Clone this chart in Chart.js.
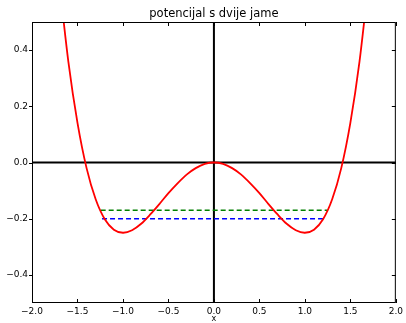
<!DOCTYPE html>
<html>
<head>
<meta charset="utf-8">
<script src="https://cdn.jsdelivr.net/npm/chart.js@4.4.0/dist/chart.umd.min.js"></script>
<style>
html,body{margin:0;padding:0;background:#fff;}
#wrap{width:406px;height:323px;position:relative;}
</style>
</head>
<body>
<div id="wrap"><canvas id="c" width="406" height="323"></canvas></div>
<script>
// potential curve samples
const curveX = [-1.7,-1.6,-1.5,-1.4,-1.3,-1.2,-1.1,-1.0,-0.9,-0.8,-0.7,-0.6,-0.5,-0.4,-0.3,-0.2,-0.1,0.0,0.1,0.2,0.3,0.4,0.5,0.6,0.7,0.8,0.9,1.0,1.1,1.2,1.3,1.4,1.5,1.6,1.7];
const curveY = [0.643,0.358,0.141,-0.020,-0.131,-0.202,-0.239,-0.250,-0.241,-0.218,-0.185,-0.148,-0.109,-0.074,-0.043,-0.020,-0.005,0.000,-0.005,-0.020,-0.043,-0.074,-0.109,-0.148,-0.185,-0.218,-0.241,-0.250,-0.239,-0.202,-0.131,-0.020,0.141,0.358,0.643];
// energy levels
const greenX = [-1.245, 1.245];
const greenY = [-0.17, -0.17];
const blueX = [-1.23, 1.23];
const blueY = [-0.2, -0.2];
// ticks
const xTicks = [-2.0,-1.5,-1.0,-0.5,0.0,0.5,1.0,1.5,2.0];
const yTicks = [-0.4,-0.2,0.0,0.2,0.4];
const xRange = [-2, 2];
const yRange = [-0.5, 0.5];
const titleText = 'potencijal s dvije jame';
const xLabel = 'x';

const pts = (xs, ys) => xs.map((x, i) => ({x: x, y: ys[i]}));

const framePlugin = {
  id: 'frame',
  beforeDatasetsDraw(chart) {
    const {ctx, chartArea: a, scales} = chart;
    const xs = scales.x, ys = scales.y;
    ctx.save();
    ctx.strokeStyle = '#000';
    ctx.lineWidth = 2;
    const y0 = ys.getPixelForValue(0);
    const x0 = xs.getPixelForValue(0);
    ctx.beginPath();
    ctx.moveTo(a.left, y0); ctx.lineTo(a.right, y0);
    ctx.moveTo(x0, a.top); ctx.lineTo(x0, a.bottom);
    ctx.stroke();
    ctx.restore();
  },
  afterDatasetsDraw(chart) {
    const {ctx, chartArea: a, scales} = chart;
    const xs = scales.x, ys = scales.y;
    ctx.save();
    ctx.strokeStyle = '#000';
    ctx.lineWidth = 1;
    ctx.strokeRect(a.left + 0.5, a.top + 0.5, a.right - a.left - 1, a.bottom - a.top - 1);
    ctx.beginPath();
    xTicks.forEach(v => {
      const p = Math.round(xs.getPixelForValue(v)) + 0.5;
      ctx.moveTo(p, a.bottom); ctx.lineTo(p, a.bottom - 4);
      ctx.moveTo(p, a.top); ctx.lineTo(p, a.top + 4);
    });
    yTicks.forEach(v => {
      const p = Math.round(ys.getPixelForValue(v)) + 0.5;
      ctx.moveTo(a.left, p); ctx.lineTo(a.left - 3, p);
      ctx.moveTo(a.right, p); ctx.lineTo(a.right - 4, p);
    });
    ctx.stroke();
    // title centred over the axes
    ctx.fillStyle = '#000';
    ctx.font = '11.5px "DejaVu Sans"';
    ctx.textAlign = 'center';
    ctx.textBaseline = 'alphabetic';
    ctx.fillText(titleText, (a.left + a.right) / 2, 17.3);
    ctx.restore();
  }
};

new Chart(document.getElementById('c'), {
  type: 'scatter',
  data: {
    datasets: [
      {data: pts(curveX, curveY), showLine: true, borderColor: '#ff0000', borderWidth: 1.8, pointRadius: 0, tension: 0.3, fill: false},
      {data: pts(greenX, greenY), showLine: true, borderColor: '#008000', borderWidth: 1.6, borderDash: [5, 3], pointRadius: 0, fill: false},
      {data: pts(blueX, blueY), showLine: true, borderColor: '#0000ff', borderWidth: 1.6, borderDash: [5, 3], pointRadius: 0, fill: false}
    ]
  },
  options: {
    responsive: false,
    animation: false,
    events: [],
    layout: {padding: {left: 0, right: 10, top: 22, bottom: 0}},
    plugins: {
      legend: {display: false},
      tooltip: {enabled: false},
      title: {display: false}
    },
    scales: {
      x: {
        type: 'linear',
        min: xRange[0], max: xRange[1],
        afterBuildTicks: s => { s.ticks = xTicks.map(v => ({value: v})); },
        afterFit: s => { s.height = 20; },
        grid: {display: false, drawTicks: false},
        border: {display: false},
        ticks: {
          color: '#000', padding: 3,
          font: {family: 'DejaVu Sans', size: 9},
          maxRotation: 0, autoSkip: false,
          callback: v => (v < 0 ? '\u2212' : '') + Math.abs(v).toFixed(1)
        },
        title: {
          display: true, text: xLabel, color: '#000',
          font: {family: 'DejaVu Sans', size: 8, lineHeight: 1},
          padding: {top: 0, bottom: 0}
        }
      },
      y: {
        type: 'linear',
        min: yRange[0], max: yRange[1],
        afterBuildTicks: s => { s.ticks = yTicks.map(v => ({value: v})); },
        afterFit: s => { s.width = 32; },
        grid: {display: false, drawTicks: false},
        border: {display: false},
        ticks: {
          color: '#000', padding: 4,
          font: {family: 'DejaVu Sans', size: 9},
          callback: v => (v < -1e-9 ? '\u2212' : '') + Math.abs(v).toFixed(1)
        }
      }
    }
  },
  plugins: [framePlugin]
});
</script>
</body>
</html>
